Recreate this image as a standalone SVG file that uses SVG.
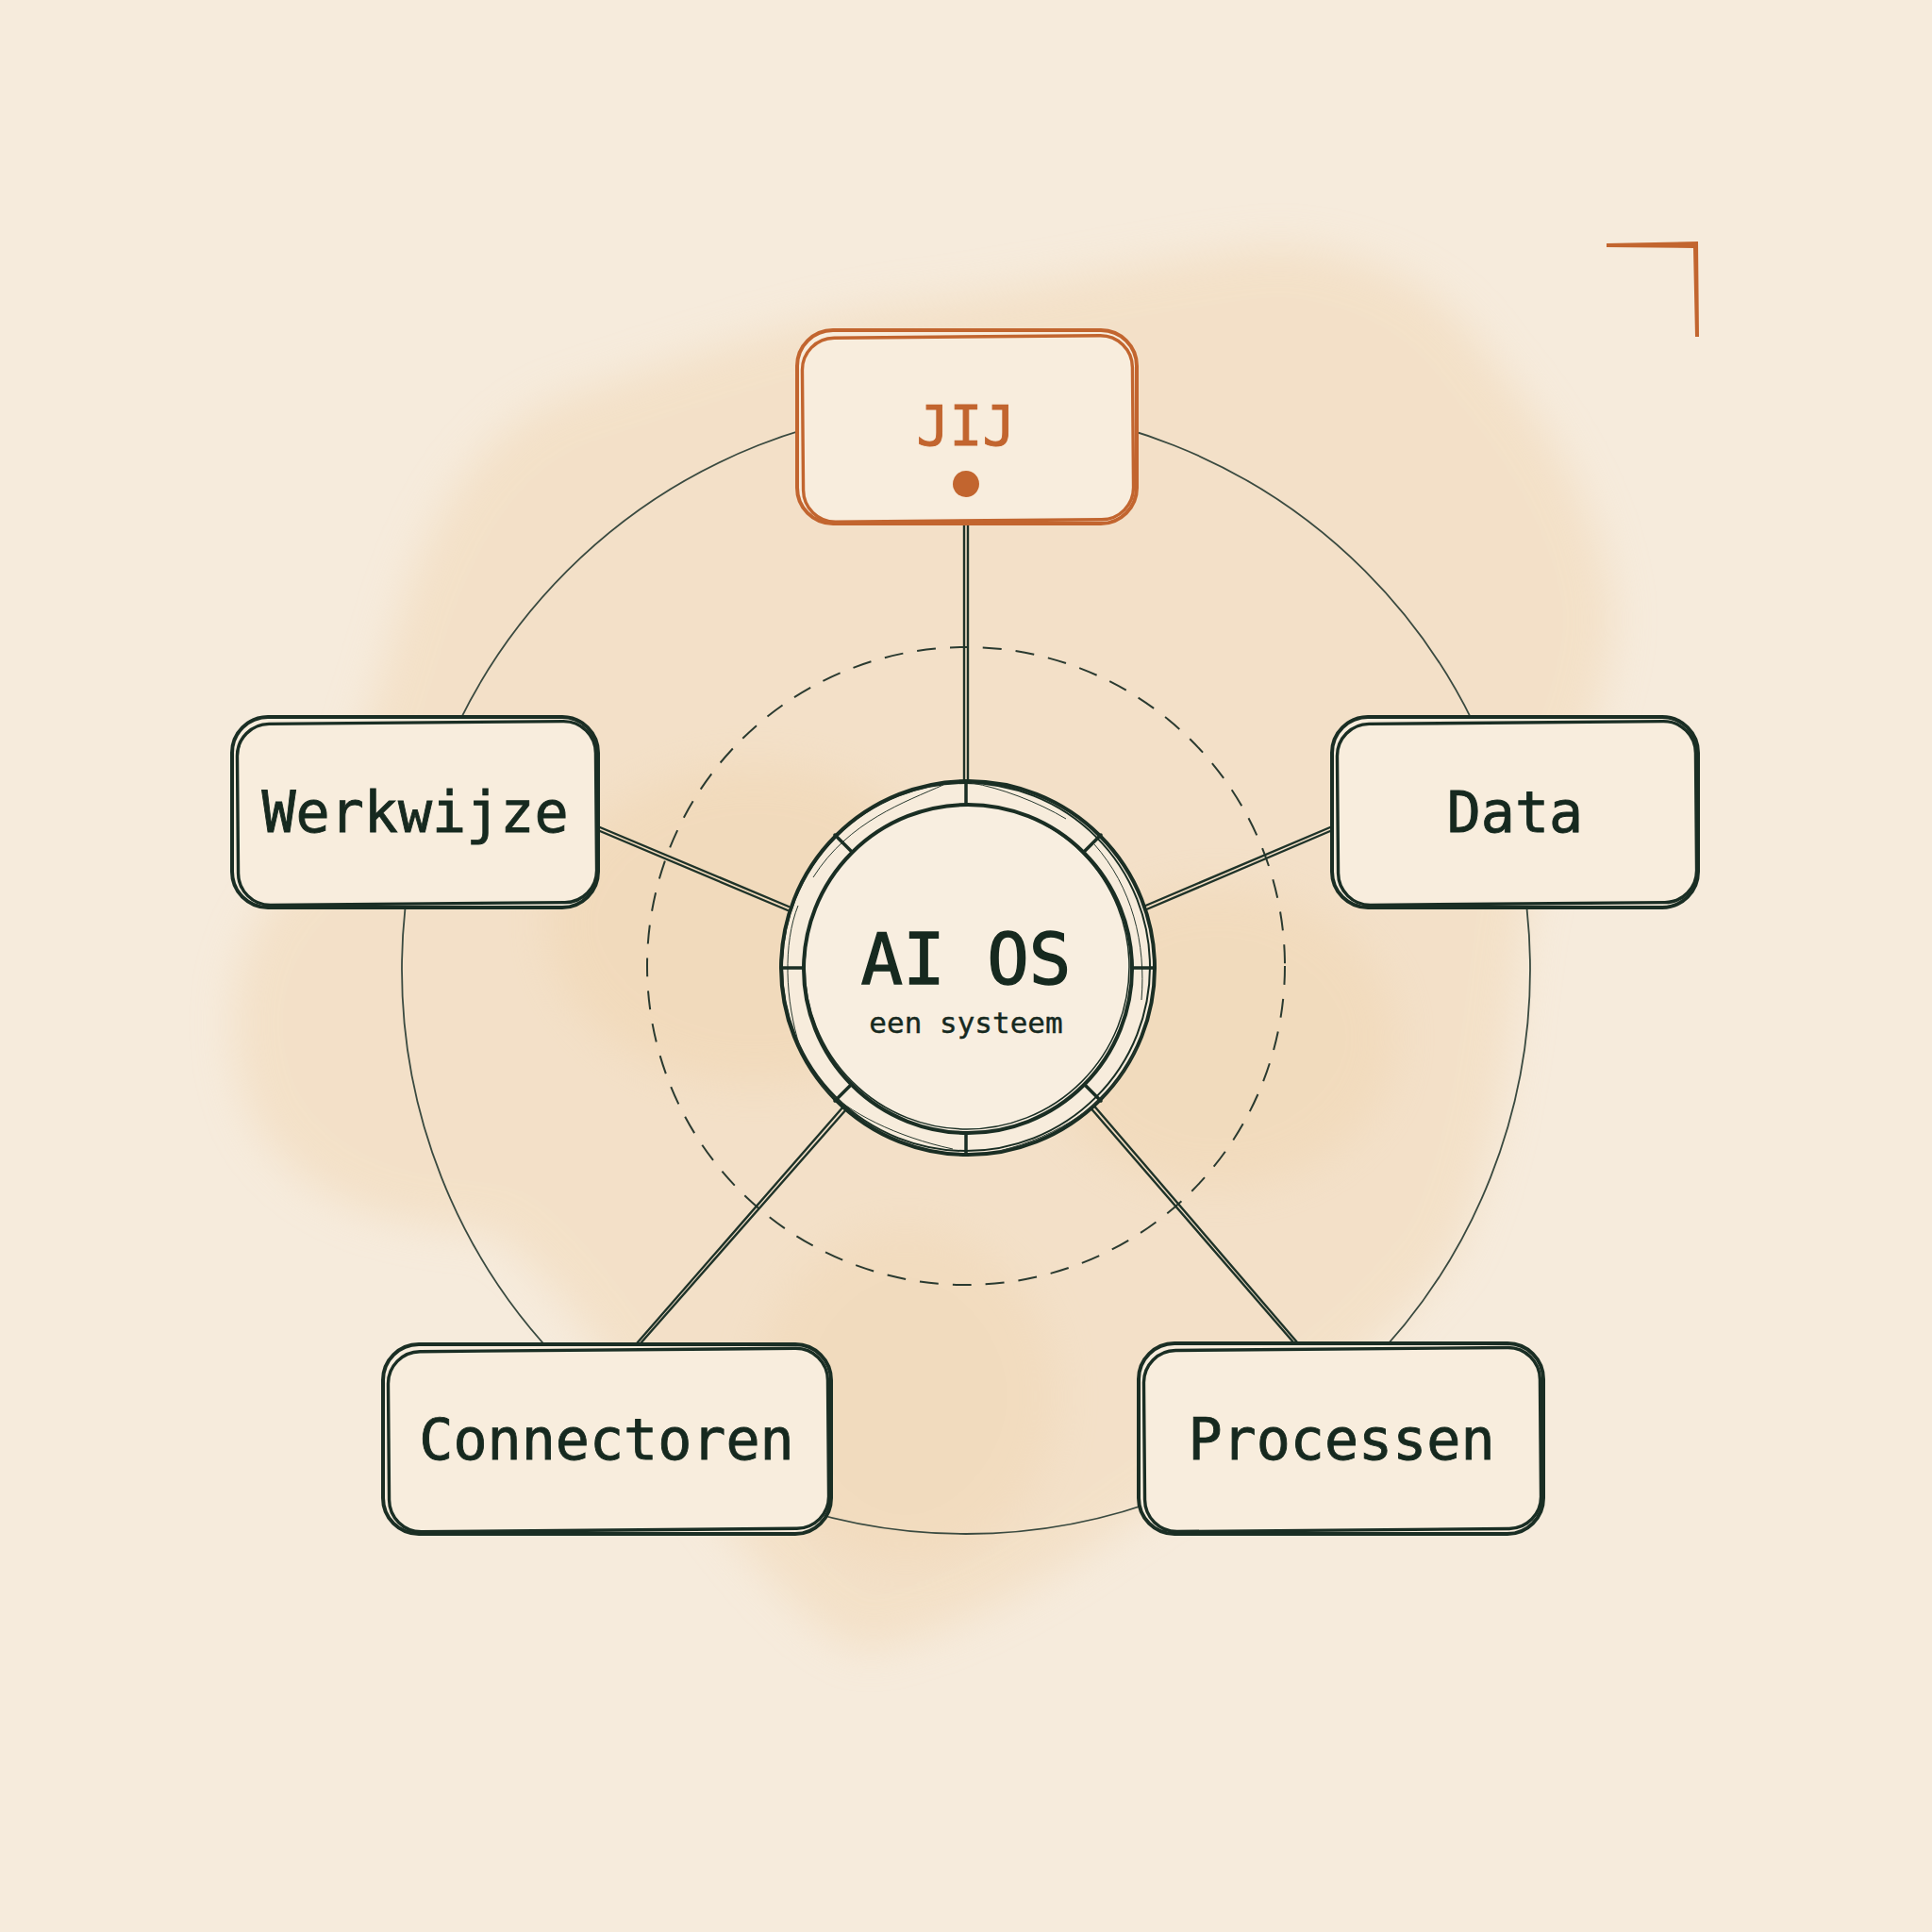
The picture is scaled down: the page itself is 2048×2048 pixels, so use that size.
<svg xmlns="http://www.w3.org/2000/svg" width="2048" height="2048" viewBox="0 0 2048 2048">
<defs>
<filter id="blur" x="-20%" y="-20%" width="140%" height="140%"><feGaussianBlur stdDeviation="22"/></filter>
<style>
.lbl{font-family:"DejaVu Sans Mono","Liberation Mono",monospace;fill:#16291f;stroke:#16291f;stroke-width:0.9;text-anchor:middle}
.box{fill:#f8eddd;stroke:#1a2e24;stroke-width:4}
.box2{fill:none;stroke:#1a2e24;stroke-width:3.4}
.obox{fill:#f8eddd;stroke:#c2652f;stroke-width:4}
.obox2{fill:none;stroke:#c2652f;stroke-width:3.4}
.con{stroke:#1f3329;stroke-width:2.4;fill:none;stroke-linecap:round}
.thin{stroke:#2a3a30;stroke-width:1;fill:none}
</style>
</defs>
<rect width="2048" height="2048" fill="#f6ebdc"/>
<g id="wash">
<path filter="url(#blur)" fill="#f2dabb" opacity="0.6" d="M431,627 C470,520 520,450 600,420 C700,390 840,335 980,320 C1100,305 1250,270 1358,261 C1450,270 1530,300 1580,380 C1640,450 1700,540 1711,653 C1705,760 1650,850 1620,960 C1600,1080 1600,1200 1540,1330 C1460,1440 1340,1520 1190,1620 C1080,1700 980,1740 914,1750 C840,1720 770,1620 700,1520 C640,1440 580,1340 520,1306 C440,1300 330,1290 270,1190 C230,1100 245,1000 300,940 C360,880 390,760 431,627 Z"/>
<ellipse filter="url(#blur)" cx="800" cy="980" rx="220" ry="170" fill="#f0d4ae" opacity="0.45"/>
<ellipse filter="url(#blur)" cx="1290" cy="1100" rx="190" ry="160" fill="#f0d4ae" opacity="0.4"/>
<ellipse filter="url(#blur)" cx="960" cy="1480" rx="160" ry="180" fill="#f0d4ae" opacity="0.35"/>
</g>
<g id="corner">
<polygon points="1703,258 1800,256 1801,357 1797,357 1795,263 1703,262" fill="#c2652f"/>
</g>
<g id="rings">
<circle cx="1024" cy="1028" r="598" fill="none" stroke="#3a4a40" stroke-width="1.8"/>
<circle cx="1024" cy="1024" r="338" fill="none" stroke="#2a3a30" stroke-width="2" stroke-dasharray="20 15"/>
</g>
<g id="connectors">
<line class="con" x1="1022" y1="557" x2="1022" y2="828"/>
<line class="con" x1="1026" y1="557" x2="1026" y2="828"/>
<line class="con" x1="636" y1="877" x2="836" y2="961"/>
<line class="con" x1="636" y1="881" x2="835" y2="965"/>
<line class="con" x1="1410" y1="877" x2="1212" y2="961"/>
<line class="con" x1="1410" y1="881" x2="1213" y2="965"/>
<line class="con" x1="675" y1="1424" x2="908" y2="1157"/>
<line class="con" x1="679" y1="1424" x2="912" y2="1159"/>
<line class="con" x1="1372" y1="1424" x2="1141" y2="1157"/>
<line class="con" x1="1376" y1="1424" x2="1145" y2="1155"/>
</g>
<g id="node-center">
<circle cx="1026" cy="1026" r="198" fill="#f7ecdc" stroke="#1a2e24" stroke-width="4"/>
<circle cx="1024" cy="1025" r="195" fill="none" stroke="#1a2e24" stroke-width="2"/>
<path class="thin" d="M1000,832 C960,850 900,870 862,930 M846,960 C830,1000 832,1060 848,1110 M870,1150 C900,1180 950,1205 1010,1218 M1060,1220 C1120,1205 1180,1170 1205,1110 M1210,1060 C1215,1000 1200,940 1160,895 M1130,868 C1100,850 1060,835 1030,830"/>
<g stroke="#1a2e24" stroke-width="3.5" stroke-linecap="round">
<line x1="1024" y1="828" x2="1024" y2="852"/>
<line x1="1024" y1="1200" x2="1024" y2="1224"/>
<line x1="828" y1="1026" x2="852" y2="1026"/>
<line x1="1200" y1="1026" x2="1224" y2="1026"/>
<line x1="885" y1="885" x2="902" y2="902"/>
<line x1="1167" y1="885" x2="1150" y2="902"/>
<line x1="885" y1="1167" x2="902" y2="1150"/>
<line x1="1167" y1="1167" x2="1150" y2="1150"/>
</g>
<circle cx="1026" cy="1027" r="174" fill="#f8eee0" stroke="#1a2e24" stroke-width="4"/>
<circle cx="1025" cy="1025" r="172" fill="none" stroke="#1a2e24" stroke-width="1.5"/>
<text class="lbl" x="1024" y="1043" font-size="74" style="stroke-width:1.4">AI OS</text>
<text class="lbl" x="1024" y="1095" font-size="31" style="stroke-width:0.4">een systeem</text>
</g>
<g id="node-jij">
<rect class="obox" x="845" y="350" width="360" height="205" rx="38"/>
<rect class="obox2" x="851" y="357" width="350" height="195" rx="34" transform="rotate(-0.5 1024 455)"/>
<text class="lbl" x="1024" y="472" font-size="58" style="fill:#c2652f;stroke:#c2652f">JIJ</text>
<circle cx="1024" cy="513" r="14" fill="#c2652f"/>
</g>
<g id="node-werkwijze">
<rect class="box" x="246" y="760" width="388" height="202" rx="38"/>
<rect class="box2" x="252" y="766" width="380" height="192" rx="34" transform="rotate(-0.5 441 861)"/>
<text class="lbl" x="440" y="882" font-size="60">Werkwijze</text>
</g>
<g id="node-data">
<rect class="box" x="1412" y="760" width="388" height="202" rx="38"/>
<rect class="box2" x="1418" y="766" width="380" height="192" rx="34" transform="rotate(-0.5 1606 861)"/>
<text class="lbl" x="1606" y="882" font-size="60">Data</text>
</g>
<g id="node-connectoren">
<rect class="box" x="406" y="1425" width="475" height="201" rx="38"/>
<rect class="box2" x="412" y="1431" width="466" height="191" rx="34" transform="rotate(-0.5 643 1526)"/>
<text class="lbl" x="643" y="1547" font-size="60">Connectoren</text>
</g>
<g id="node-processen">
<rect class="box" x="1207" y="1424" width="429" height="202" rx="38"/>
<rect class="box2" x="1213" y="1430" width="420" height="192" rx="34" transform="rotate(-0.5 1422 1526)"/>
<text class="lbl" x="1422" y="1547" font-size="60">Processen</text>
</g>
</svg>
